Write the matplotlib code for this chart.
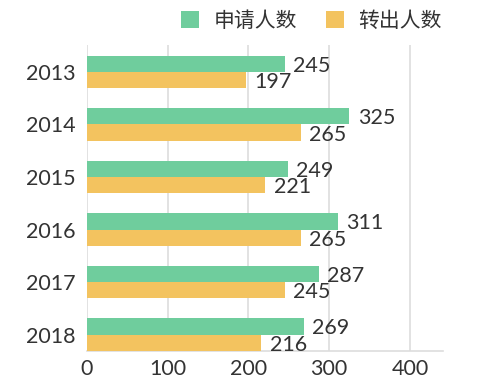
import matplotlib
matplotlib.use("Agg")
import matplotlib.pyplot as plt
from matplotlib.patches import Patch
import numpy as np

plt.rcParams['font.family'] = ['Lato', 'Noto Sans CJK SC', 'DejaVu Sans']
plt.rcParams['font.weight'] = 'normal'

years = ["2013", "2014", "2015", "2016", "2017", "2018"]
applied = [245, 325, 249, 311, 287, 269]
transferred = [197, 265, 221, 265, 245, 216]
series_names = ["申请人数", "转出人数"]
xticks = [0, 100, 200, 300, 400]

green = "#6FCD9D"
yellow = "#F3C35F"
text_c = "#333333"
grid_c = "#DDDDDD"

fig = plt.figure(figsize=(4.78, 3.91), dpi=100)
ax = fig.add_axes([87/478, 40/391, 356/478, 306/391])

y = np.arange(len(years))
h = 0.314
ax.barh(y - h/2, applied, height=h, color=green, zorder=3)
ax.barh(y + h/2, transferred, height=h, color=yellow, zorder=3)

fs = 15.5
for yi, v in zip(y, applied):
    ax.annotate(str(v), (v, yi - h/2), xytext=(6, -1.5), textcoords="offset points",
                va="center", ha="left", fontsize=fs, color=text_c)
for yi, v in zip(y, transferred):
    ax.annotate(str(v), (v, yi + h/2), xytext=(6, -1.5), textcoords="offset points",
                va="center", ha="left", fontsize=fs, color=text_c)

ax.set_xlim(0, 441)
ax.set_ylim(5 + h, -0.514)
ax.set_yticks(y)
ax.set_yticklabels(years, fontsize=fs, color=text_c)
ax.set_xticks(xticks)
ax.set_xticklabels([str(t) for t in xticks], fontsize=fs, color=text_c)
ax.tick_params(axis='both', length=0)
ax.tick_params(axis='y', pad=8)
ax.tick_params(axis='x', pad=6)
ax.grid(axis='x', color=grid_c, linewidth=1.2, zorder=0)
for s in ['top', 'right', 'left']:
    ax.spines[s].set_visible(False)
ax.spines['bottom'].set_color(grid_c)
ax.spines['bottom'].set_linewidth(1.2)

handles = [Patch(facecolor=green, edgecolor='none'), Patch(facecolor=yellow, edgecolor='none')]
fig.legend(handles, series_names, loc='center right', bbox_to_anchor=(450/478, 1 - 21/391),
           ncol=2, frameon=False, handlelength=0.85, handleheight=0.85,
           prop={'family': ['Noto Sans CJK SC'], 'size': 15},
           handletextpad=0.7, columnspacing=1.4, labelcolor=text_c, borderaxespad=0)

fig.savefig("out.png", dpi=100)
